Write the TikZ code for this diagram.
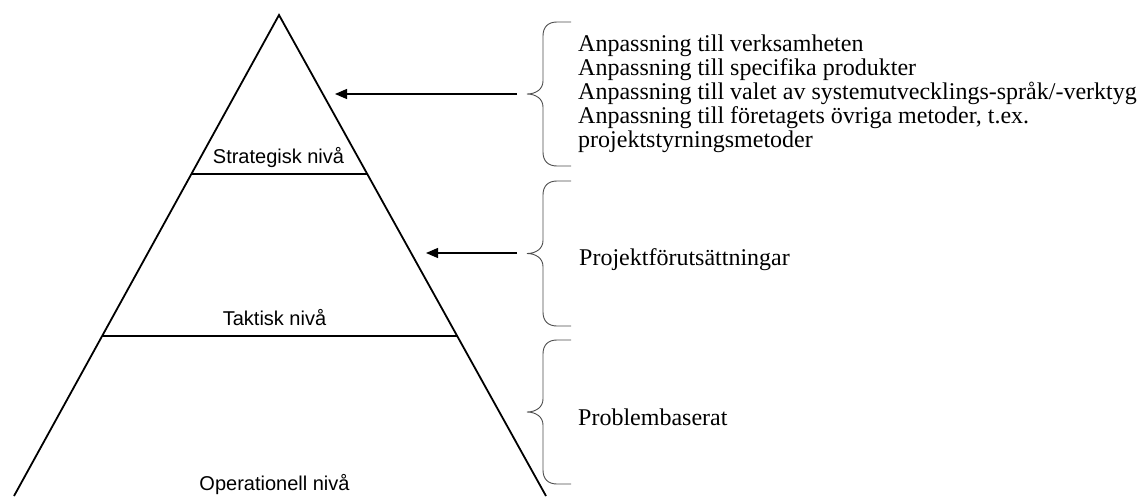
\documentclass[tikz,border=0pt]{standalone}
\usepackage{fontspec}
\setmainfont{Liberation Serif}
\newfontfamily\labelfont{Liberation Sans}
\usetikzlibrary{arrows.meta,calc}
\tikzset{
  pics/leftbrace/.style={code={
    \draw[bracepath] (44,-#1) -- (30,-#1)
      .. controls (21,-#1) and (16,-#1+5) .. (16,-#1+14)
      -- (16,-13) .. controls (16,-5) and (9,0) .. (0,0)
      .. controls (9,0) and (16,5) .. (16,13)
      -- (16,#1-14) .. controls (16,#1-5) and (21,#1) .. (30,#1)
      -- (44,#1);
  }},
  bracepath/.style={line width=0.9pt,draw=black!70},
  level/.style={line width=1.8pt,draw=black,line join=miter},
  pointer/.style={line width=1.3pt,draw=black,-{Triangle[length=12pt,width=10pt]}},
  levellabel/.style={font=\labelfont\fontsize{20}{24}\selectfont,anchor=base,inner sep=0pt},
  note/.style={font=\fontsize{24}{24}\selectfont,align=left,inner sep=0pt}
}
\begin{document}
\begin{tikzpicture}[x=1pt,y=-1pt]
\useasboundingbox (0,0) rectangle (1146,496);

% pyramid outline
\coordinate (apex) at (279,15);
\coordinate (bl) at (14,496);
\coordinate (br) at (546,496);
\draw[level] (bl) -- (apex) -- (br);

% level separators
\draw[level] ($(apex)!0.33!(bl)$) -- ($(apex)!0.33!(br)$);
\draw[level] ($(apex)!0.667!(bl)$) -- ($(apex)!0.667!(br)$);

% level names
\node[levellabel] (strat) at (278.5,163) {Strategisk nivå};
\node[levellabel] (takt) at (274.5,325) {Taktisk nivå};
\node[levellabel] (oper) at (274.5,490) {Operationell nivå};

% braces
\pic at (527,94) {leftbrace=72};
\pic at (527,253.5) {leftbrace=72.5};
\pic at (527,412) {leftbrace=72};

% descriptions
\node[note,anchor=west] (adapt) at (578,94) {Anpassning till verksamheten\\
Anpassning till specifika produkter\\
Anpassning till valet av systemutvecklings-språk/-verktyg\\
Anpassning till företagets övriga metoder, t.ex.\\
projektstyrningsmetoder};
\node[note,anchor=base west] (proj) at (579,265) {Projektförutsättningar};
\node[note,anchor=base west] (prob) at (578,425) {Problembaserat};

% arrows into the pyramid
\coordinate (src1) at (517,94);
\coordinate (dst1) at (335,94);
\coordinate (src2) at (517,253);
\coordinate (dst2) at (426,253);
\draw[pointer] (src1) -- (dst1);
\draw[pointer] (src2) -- (dst2);
\end{tikzpicture}
\end{document}
